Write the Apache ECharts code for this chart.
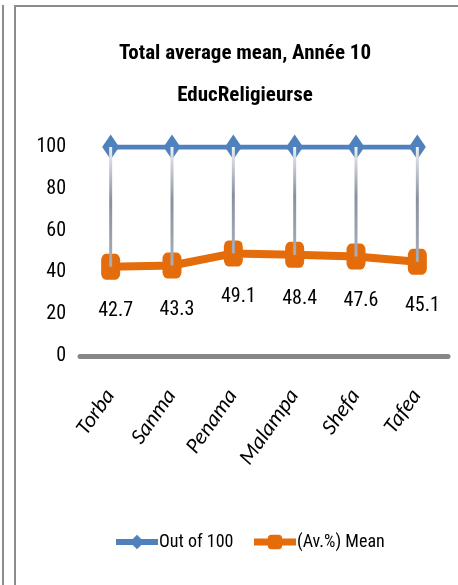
<!DOCTYPE html>
<html>
<head>
<meta charset="utf-8">
<style>
  html, body { margin: 0; padding: 0; background: #fff; }
  #chart { width: 458px; height: 585px; }
</style>
<script src="https://cdn.jsdelivr.net/npm/echarts@6/dist/echarts.min.js"></script>
</head>
<body>
<div id="chart"></div>
<script>
// Provinces and the two series plotted for each
const provinces = ['Torba', 'Sanma', 'Penama', 'Malampa', 'Shefa', 'Tafea'];
const outOf100 = [100, 100, 100, 100, 100, 100];
const avgMean = [42.7, 43.3, 49.1, 48.4, 47.6, 45.1];
const yTicks = [0, 20, 40, 60, 80, 100];

const FONT = "'Roboto Condensed', 'Liberation Sans', sans-serif";
const ITALIC_FONT = "Carlito, 'Roboto Condensed', sans-serif";
const BLUE = '#4F81BD';
const ORANGE = '#E46C0A';

const chart = echarts.init(document.getElementById('chart'));

// Vertical high-low connectors between the two series
const hiLoData = provinces.map((p, i) => [i, outOf100[i], avgMean[i]]);

chart.setOption({
  backgroundColor: '#fff',
  animation: false,
  textStyle: { fontFamily: FONT },
  title: {
    text: 'Total average mean, Année 10\nEducReligieurse',
    left: 240,
    textAlign: 'center',
    top: 28,
    textStyle: { fontFamily: FONT, fontWeight: 'bold', fontSize: 21, color: '#000', lineHeight: 42 }
  },
  graphic: [
    { type: 'line', shape: { x1: 3, y1: 5, x2: 3, y2: 585 }, style: { stroke: '#8c8c8c', lineWidth: 2 } },
    { type: 'polyline', shape: { points: [[15, 600], [15, 6], [470, 6]] }, style: { stroke: '#8c8c8c', lineWidth: 2, fill: null } }
  ],
  legend: {
    bottom: 29,
    left: 108,
    itemWidth: 42,
    itemHeight: 18,
    itemGap: 17,
    textStyle: { fontFamily: FONT, fontSize: 18, color: '#000', padding: [0, 0, 0, -4] },
    data: [
      { name: 'Out of 100', lineStyle: { width: 6 } },
      { name: '(Av.%) Mean', lineStyle: { width: 7 } }
    ]
  },
  grid: { left: 80, right: 10, top: 147, bottom: 229, containLabel: false },
  xAxis: {
    type: 'category',
    data: provinces,
    boundaryGap: true,
    axisLine: { show: true, lineStyle: { color: '#878787', width: 5 } },
    axisTick: { show: false },
    axisLabel: {
      rotate: 55,
      margin: 36,
      fontFamily: ITALIC_FONT,
      fontStyle: 'italic',
      fontSize: 22,
      color: '#000'
    }
  },
  yAxis: {
    type: 'value',
    min: yTicks[0],
    max: yTicks[yTicks.length - 1],
    interval: yTicks[1] - yTicks[0],
    axisLine: { show: false },
    axisTick: { show: false },
    splitLine: { show: false },
    axisLabel: { margin: 14, fontFamily: FONT, fontSize: 20, color: '#000' }
  },
  series: [
    {
      name: 'Out of 100',
      type: 'line',
      data: outOf100,
      symbol: 'diamond',
      symbolSize: [17, 25],
      lineStyle: { color: BLUE, width: 5 },
      itemStyle: { color: BLUE },
      z: 2
    },
    {
      name: '(Av.%) Mean',
      type: 'line',
      data: avgMean,
      symbol: 'roundRect',
      symbolSize: [19, 26],
      lineStyle: { color: ORANGE, width: 8 },
      itemStyle: { color: ORANGE },
      label: {
        show: true,
        position: 'bottom',
        distance: 21,
        offset: [5, 0],
        fontFamily: FONT,
        fontSize: 20,
        color: '#000'
      },
      z: 3
    },
    {
      type: 'custom',
      name: 'hilo',
      data: hiLoData,
      z: 4,
      silent: true,
      renderItem: function (params, api) {
        const top = api.coord([api.value(0), api.value(1)]);
        const bot = api.coord([api.value(0), api.value(2)]);
        return {
          type: 'line',
          shape: { x1: top[0], y1: top[1], x2: bot[0], y2: bot[1] },
          style: {
            stroke: new echarts.graphic.LinearGradient(0, top[1], 0, bot[1], [
              { offset: 0, color: '#eef0f4' },
              { offset: 0.45, color: '#8a90a0' },
              { offset: 1, color: '#a9aebb' }
            ], true),
            lineWidth: 3
          }
        };
      }
    }
  ]
});
</script>
</body>
</html>
